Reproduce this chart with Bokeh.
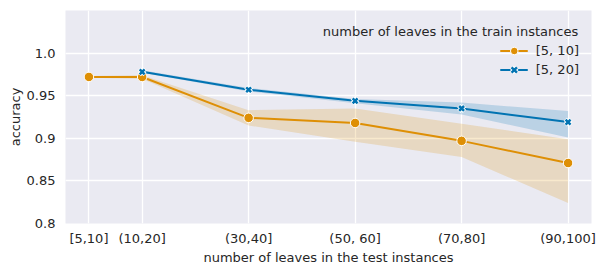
from bokeh.plotting import figure
from bokeh.models import FixedTicker, Legend, LegendItem, Label
from bokeh.embed import file_html
from bokeh.resources import INLINE

# ---- data ----
categories = ["[5,10]", "(10,20]", "(30,40]", "(50, 60]", "(70,80]", "(90,100]"]
cat_upper = [10, 20, 40, 60, 80, 100]          # upper bound of each test-leaf bin

acc_5_10 = [0.972, 0.972, 0.924, 0.918, 0.897, 0.871]
lo_5_10 = [0.971, 0.970, 0.915, 0.896, 0.878, 0.824]
hi_5_10 = [0.973, 0.974, 0.933, 0.935, 0.917, 0.899]

bins_5_20 = ["(10,20]", "(30,40]", "(50, 60]", "(70,80]", "(90,100]"]
acc_5_20 = [0.978, 0.957, 0.944, 0.935, 0.919]
lo_5_20 = [0.977, 0.955, 0.941, 0.928, 0.901]
hi_5_20 = [0.980, 0.959, 0.946, 0.942, 0.932]

y_ticks = [0.8, 0.85, 0.9, 0.95, 1.0]
y_tick_labels = ["0.8", "0.85", "0.9", "0.95", "1.0"]

series_names = ["[5, 10]", "[5, 20]"]
legend_title = "number of leaves in the train instances"
x_label = "number of leaves in the test instances"
y_label = "accuracy"

# ---- styling ----
FONT = "DejaVu Sans"
TXT = "#262626"
ORANGE = "#DE8F05"
BLUE = "#0173B2"
BG = "#EAEAF2"

x_of = dict(zip(categories, cat_upper))
x_5_10 = [x_of[c] for c in categories]
x_5_20 = [x_of[c] for c in bins_5_20]

p = figure(width=605, height=273, x_range=(5.6, 104.4), y_range=(0.8, 1.05),
           output_backend="svg", toolbar_location=None,
           min_border_left=65, min_border_right=14, min_border_top=10, min_border_bottom=50,
           background_fill_color=BG, border_fill_color="white", outline_line_color=None)

# bands
p.varea(x=x_5_10, y1=lo_5_10, y2=hi_5_10, fill_color=ORANGE, fill_alpha=0.2)
p.varea(x=x_5_20, y1=lo_5_20, y2=hi_5_20, fill_color=BLUE, fill_alpha=0.2)

# lines + markers
l1 = p.line(x_5_10, acc_5_10, line_color=ORANGE, line_width=2)
m1 = p.scatter(x_5_10, acc_5_10, marker="circle", size=9.5, fill_color=ORANGE,
               line_color="white", line_width=1)
l2 = p.line(x_5_20, acc_5_20, line_color=BLUE, line_width=2)
m2w = p.scatter(x_5_20, acc_5_20, marker="x", size=8, line_color="white", line_width=4.5)
m2 = p.scatter(x_5_20, acc_5_20, marker="x", size=7, line_color=BLUE, line_width=2.5)

# axes
p.xaxis.ticker = FixedTicker(ticks=cat_upper)
p.xaxis.major_label_overrides = {x: c for x, c in zip(cat_upper, categories)}
p.yaxis.ticker = FixedTicker(ticks=y_ticks)
p.yaxis.major_label_overrides = {t: s for t, s in zip(y_ticks, y_tick_labels)}

for ax in (p.xaxis[0], p.yaxis[0]):
    ax.axis_line_color = None
    ax.major_tick_line_color = None
    ax.minor_tick_line_color = None
    ax.major_tick_out = 0
    ax.major_tick_in = 0
    ax.major_label_text_font = FONT
    ax.major_label_text_font_size = "13px"
    ax.major_label_text_color = TXT
    ax.axis_label_text_font = FONT
    ax.axis_label_text_font_size = "13px"
    ax.axis_label_text_color = TXT
    ax.axis_label_text_font_style = "normal"

p.xaxis.axis_label = x_label
p.yaxis.axis_label = y_label
p.xaxis.major_label_standoff = 7
p.xaxis.axis_label_standoff = 1
p.yaxis.major_label_standoff = 10
p.yaxis.axis_label_standoff = 1

p.xgrid.grid_line_color = "white"
p.ygrid.grid_line_color = "white"
p.xgrid.grid_line_width = 1.3
p.ygrid.grid_line_width = 1.3

# legend
legend = Legend(items=[LegendItem(label=series_names[0], renderers=[l1, m1]),
                       LegendItem(label=series_names[1], renderers=[l2, m2w, m2])],
                location="top_right", title=" ", title_text_font_size="13px",
                title_standoff=4, margin=12, padding=0, spacing=0,
                glyph_width=28, glyph_height=19, label_height=19, label_standoff=8,
                label_text_font=FONT, label_text_font_size="13px", label_text_color=TXT,
                background_fill_alpha=0, border_line_alpha=0)
p.add_layout(legend)

p.add_layout(Label(x=101.9, y=1.025, text=legend_title, text_align="right",
                   text_baseline="middle", text_font=FONT, text_font_size="13px",
                   text_color=TXT))

open("out.html", "w").write(file_html(p, INLINE))
